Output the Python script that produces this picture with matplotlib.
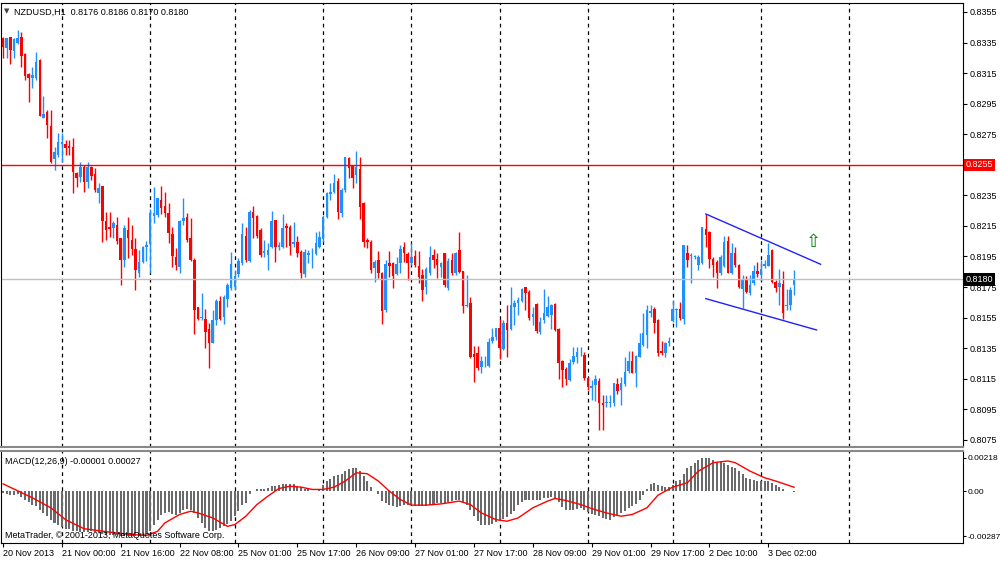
import matplotlib
matplotlib.use('Agg')
import matplotlib.pyplot as plt
import numpy as np

# NZDUSD H1, bars (bar index 0 = 20 Nov 2013 08:00)
opens = [0.83382, 0.83312, 0.83384, 0.83295, 0.83345, 0.83384, 0.83273, 0.83142, 0.83120, 0.83120,
         0.83236, 0.82858, 0.82893, 0.82806, 0.82588, 0.82614, 0.82686, 0.82684, 0.82675, 0.82669,
         0.82494, 0.82472, 0.82538, 0.82439, 0.82538, 0.82488, 0.82363, 0.82411, 0.82182, 0.82145,
         0.82134, 0.82156, 0.82069, 0.81927, 0.82123, 0.82058, 0.81997, 0.81844, 0.81916, 0.82010,
         0.82032, 0.82215, 0.82221, 0.82320, 0.82280, 0.82237, 0.82097, 0.81949, 0.81883, 0.82184,
         0.82211, 0.82069, 0.81927, 0.81617, 0.81545, 0.81539, 0.81473, 0.81386, 0.81534, 0.81661,
         0.81556, 0.81669, 0.81741, 0.81748, 0.81835, 0.81905, 0.82084, 0.81922, 0.82243, 0.82215,
         0.82123, 0.81970, 0.81960, 0.82014, 0.82189, 0.82014, 0.82014, 0.82150, 0.82145, 0.82034,
         0.82047, 0.81977, 0.81833, 0.81960, 0.81964, 0.81964, 0.82014, 0.82065, 0.82211, 0.82357,
         0.82375, 0.82444, 0.82233, 0.82385, 0.82593, 0.82545, 0.82484, 0.82523, 0.82298, 0.82058,
         0.82047, 0.81873, 0.81927, 0.81840, 0.81600, 0.81905, 0.81905, 0.81833, 0.81905, 0.82010,
         0.81966, 0.81905, 0.81953, 0.81887, 0.81828, 0.81748, 0.81840, 0.81959, 0.81931, 0.81883,
         0.81970, 0.81741, 0.81927, 0.81839, 0.81992, 0.81857, 0.81625, 0.81647, 0.81311, 0.81316,
         0.81224, 0.81250, 0.81233, 0.81399, 0.81420, 0.81479, 0.81342, 0.81516, 0.81473, 0.81621,
         0.81647, 0.81660, 0.81748, 0.81719, 0.81551, 0.81639, 0.81458, 0.81534, 0.81560, 0.81567,
         0.81637, 0.81473, 0.81268, 0.81211, 0.81141, 0.81261, 0.81290, 0.81310, 0.81305, 0.81152,
         0.81087, 0.81109, 0.81137, 0.80993, 0.80993, 0.80989, 0.80993, 0.81115, 0.81076, 0.81115,
         0.81202, 0.81268, 0.81189, 0.81294, 0.81371, 0.81436, 0.81582, 0.81604, 0.81534, 0.81333,
         0.81316, 0.81386, 0.81530, 0.81600, 0.81604, 0.81539, 0.81975, 0.81953, 0.81945, 0.81895,
         0.81910, 0.82128, 0.82113, 0.81932, 0.81916, 0.81844, 0.81888, 0.82054, 0.81844, 0.81975,
         0.81895, 0.81735, 0.81801, 0.81713, 0.81774, 0.81857, 0.81829, 0.81888, 0.81888, 0.81993,
         0.81785, 0.81748, 0.81770, 0.81626, 0.81633, 0.81760]
highs = [0.83389, 0.83382, 0.83384, 0.83378, 0.83434, 0.83421, 0.83280, 0.83149, 0.83192, 0.83286,
         0.83240, 0.83002, 0.82909, 0.82909, 0.82669, 0.82756, 0.82756, 0.82712, 0.82712, 0.82723,
         0.82505, 0.82570, 0.82549, 0.82570, 0.82544, 0.82531, 0.82429, 0.82411, 0.82243, 0.82239,
         0.82182, 0.82210, 0.82069, 0.82156, 0.82210, 0.82156, 0.82069, 0.81992, 0.82019, 0.82053,
         0.82259, 0.82407, 0.82331, 0.82411, 0.82374, 0.82298, 0.82145, 0.82003, 0.82189, 0.82331,
         0.82237, 0.82200, 0.81938, 0.81621, 0.81713, 0.81604, 0.81512, 0.81600, 0.81669, 0.81691,
         0.81698, 0.81774, 0.81981, 0.81861, 0.81938, 0.82167, 0.82141, 0.82254, 0.82280, 0.82221,
         0.82134, 0.82058, 0.82036, 0.82248, 0.82189, 0.82047, 0.82226, 0.82167, 0.82156, 0.82178,
         0.82086, 0.81993, 0.81999, 0.81993, 0.82004, 0.82108, 0.82117, 0.82222, 0.82375, 0.82429,
         0.82488, 0.82462, 0.82396, 0.82604, 0.82604, 0.82549, 0.82641, 0.82604, 0.82309, 0.82069,
         0.82058, 0.81927, 0.81986, 0.81851, 0.81927, 0.81986, 0.81916, 0.81949, 0.82025, 0.82047,
         0.81981, 0.82036, 0.81992, 0.81988, 0.81865, 0.81883, 0.82018, 0.81996, 0.81970, 0.81916,
         0.81975, 0.81938, 0.81975, 0.81981, 0.82112, 0.81857, 0.81828, 0.81687, 0.81364, 0.81364,
         0.81298, 0.81298, 0.81414, 0.81479, 0.81479, 0.81538, 0.81534, 0.81632, 0.81748, 0.81665,
         0.81687, 0.81741, 0.81752, 0.81730, 0.81617, 0.81643, 0.81556, 0.81735, 0.81691, 0.81639,
         0.81643, 0.81480, 0.81272, 0.81229, 0.81277, 0.81360, 0.81360, 0.81360, 0.81327, 0.81163,
         0.81141, 0.81174, 0.81152, 0.81043, 0.81043, 0.81043, 0.81124, 0.81152, 0.81159, 0.81294,
         0.81333, 0.81333, 0.81305, 0.81447, 0.81578, 0.81632, 0.81632, 0.81617, 0.81539, 0.81399,
         0.81392, 0.81420, 0.81665, 0.81611, 0.81655, 0.82025, 0.82025, 0.81971, 0.81960, 0.81960,
         0.82145, 0.82228, 0.82119, 0.81949, 0.81927, 0.81960, 0.82084, 0.82084, 0.82036, 0.82015,
         0.81901, 0.81829, 0.81823, 0.81829, 0.81895, 0.81916, 0.81927, 0.81927, 0.82036, 0.81997,
         0.81796, 0.81866, 0.81857, 0.81735, 0.81753, 0.81860]
lows = [0.83251, 0.83251, 0.83208, 0.83251, 0.83338, 0.83192, 0.83105, 0.82963, 0.83050, 0.83105,
        0.82872, 0.82854, 0.82727, 0.82559, 0.82516, 0.82603, 0.82570, 0.82614, 0.82614, 0.82363,
        0.82407, 0.82439, 0.82374, 0.82396, 0.82450, 0.82374, 0.82298, 0.82047, 0.82058, 0.82080,
        0.82069, 0.82029, 0.81763, 0.81883, 0.81938, 0.81960, 0.81730, 0.81818, 0.81905, 0.81922,
        0.81840, 0.82167, 0.82210, 0.82228, 0.82210, 0.82036, 0.81883, 0.81861, 0.81840, 0.82156,
        0.82047, 0.81922, 0.81442, 0.81534, 0.81534, 0.81349, 0.81218, 0.81382, 0.81501, 0.81534,
        0.81508, 0.81621, 0.81730, 0.81730, 0.81813, 0.81894, 0.81916, 0.81916, 0.82069, 0.82069,
        0.81949, 0.81944, 0.81862, 0.82004, 0.81912, 0.81993, 0.82008, 0.82014, 0.81960, 0.82014,
        0.81949, 0.81812, 0.81818, 0.81905, 0.81877, 0.81960, 0.82004, 0.82047, 0.82200, 0.82320,
        0.82364, 0.82196, 0.82211, 0.82375, 0.82462, 0.82401, 0.82429, 0.82196, 0.82014, 0.82004,
        0.81840, 0.81781, 0.81807, 0.81506, 0.81589, 0.81818, 0.81746, 0.81829, 0.81839, 0.81916,
        0.81796, 0.81894, 0.81883, 0.81774, 0.81660, 0.81704, 0.81828, 0.81872, 0.81807, 0.81818,
        0.81748, 0.81730, 0.81828, 0.81828, 0.81839, 0.81582, 0.81621, 0.81283, 0.81130, 0.81207,
        0.81189, 0.81224, 0.81228, 0.81381, 0.81403, 0.81276, 0.81337, 0.81289, 0.81468, 0.81501,
        0.81567, 0.81654, 0.81599, 0.81534, 0.81501, 0.81447, 0.81443, 0.81517, 0.81552, 0.81473,
        0.81464, 0.81146, 0.81098, 0.81109, 0.81137, 0.81246, 0.81250, 0.81299, 0.81141, 0.81076,
        0.81011, 0.81006, 0.80814, 0.80814, 0.80962, 0.80967, 0.80971, 0.81050, 0.80978, 0.81102,
        0.81185, 0.81185, 0.81098, 0.81290, 0.81364, 0.81349, 0.81556, 0.81447, 0.81299, 0.81305,
        0.81294, 0.81365, 0.81524, 0.81491, 0.81534, 0.81508, 0.81884, 0.81774, 0.81932, 0.81862,
        0.81901, 0.82015, 0.81873, 0.81818, 0.81742, 0.81829, 0.81884, 0.81840, 0.81836, 0.81884,
        0.81742, 0.81611, 0.81709, 0.81698, 0.81764, 0.81814, 0.81796, 0.81873, 0.81888, 0.81774,
        0.81720, 0.81633, 0.81539, 0.81600, 0.81600, 0.81700]
closes = [0.83323, 0.83378, 0.83299, 0.83373, 0.83378, 0.83264, 0.83131, 0.83116, 0.83138, 0.83225,
          0.82872, 0.82885, 0.82810, 0.82570, 0.82632, 0.82697, 0.82697, 0.82662, 0.82662, 0.82501,
          0.82466, 0.82538, 0.82439, 0.82538, 0.82479, 0.82385, 0.82400, 0.82182, 0.82123, 0.82130,
          0.82167, 0.82051, 0.81927, 0.82138, 0.82069, 0.81999, 0.81861, 0.81916, 0.82010, 0.82025,
          0.82232, 0.82232, 0.82331, 0.82265, 0.82232, 0.82106, 0.81953, 0.81894, 0.82184, 0.82200,
          0.82058, 0.81927, 0.81600, 0.81539, 0.81556, 0.81458, 0.81382, 0.81534, 0.81661, 0.81539,
          0.81687, 0.81763, 0.81899, 0.81822, 0.81922, 0.82097, 0.81927, 0.82243, 0.82200, 0.82084,
          0.81960, 0.81988, 0.81993, 0.82183, 0.82014, 0.82025, 0.82139, 0.82135, 0.82021, 0.82043,
          0.81971, 0.81840, 0.81977, 0.81971, 0.81966, 0.82036, 0.82080, 0.82211, 0.82364, 0.82375,
          0.82429, 0.82244, 0.82385, 0.82604, 0.82532, 0.82466, 0.82538, 0.82276, 0.82043, 0.82043,
          0.81862, 0.81912, 0.81840, 0.81593, 0.81899, 0.81890, 0.81825, 0.81899, 0.81996, 0.81975,
          0.81905, 0.81948, 0.81894, 0.81813, 0.81730, 0.81865, 0.81948, 0.81927, 0.81894, 0.81905,
          0.81763, 0.81922, 0.81839, 0.81975, 0.81850, 0.81625, 0.81632, 0.81294, 0.81294, 0.81217,
          0.81268, 0.81255, 0.81392, 0.81425, 0.81479, 0.81348, 0.81516, 0.81468, 0.81632, 0.81643,
          0.81665, 0.81735, 0.81713, 0.81545, 0.81571, 0.81464, 0.81523, 0.81578, 0.81617, 0.81632,
          0.81469, 0.81250, 0.81207, 0.81146, 0.81250, 0.81299, 0.81327, 0.81312, 0.81152, 0.81093,
          0.81102, 0.81146, 0.80993, 0.80978, 0.81000, 0.81000, 0.81119, 0.81072, 0.81119, 0.81196,
          0.81268, 0.81189, 0.81299, 0.81386, 0.81447, 0.81600, 0.81595, 0.81512, 0.81320, 0.81320,
          0.81386, 0.81400, 0.81604, 0.81604, 0.81545, 0.82025, 0.81927, 0.81960, 0.81953, 0.81949,
          0.82141, 0.82091, 0.81932, 0.81895, 0.81844, 0.81945, 0.82047, 0.81844, 0.81975, 0.81895,
          0.81748, 0.81796, 0.81720, 0.81764, 0.81857, 0.81836, 0.81866, 0.81901, 0.81960, 0.81785,
          0.81742, 0.81779, 0.81578, 0.81633, 0.81731, 0.81800]

# MACD(12,26,9) main histogram, one value per bar
macd_main = [-0.00009, -0.00019, -0.00024, -0.00024, -0.00019, -0.00037, -0.00052, -0.00067, -0.00088, -0.00095,
             -0.00116, -0.00138, -0.00159, -0.00181, -0.00202, -0.00217, -0.00230, -0.00239, -0.00241, -0.00252,
             -0.00256, -0.00260, -0.00260, -0.00260, -0.00256, -0.00260, -0.00267, -0.00273, -0.00278, -0.00278,
             -0.00280, -0.00281, -0.00284, -0.00284, -0.00285, -0.00285, -0.00287, -0.00284, -0.00283, -0.00275,
             -0.00256, -0.00217, -0.00181, -0.00148, -0.00138, -0.00131, -0.00144, -0.00148, -0.00138, -0.00116,
             -0.00110, -0.00116, -0.00138, -0.00170, -0.00202, -0.00234, -0.00256, -0.00256, -0.00245, -0.00234,
             -0.00224, -0.00209, -0.00187, -0.00159, -0.00127, -0.00088, -0.00073, -0.00019, 0.00006, 0.00019,
             0.00019, 0.00019, 0.00024, 0.00034, 0.00034, 0.00041, 0.00045, 0.00049, 0.00045, 0.00045,
             0.00034, 0.00028, 0.00019, 0.00013, 0.00002, 0.00006, 0.00019, 0.00041, 0.00067, 0.00077,
             0.00099, 0.00105, 0.00110, 0.00131, 0.00142, 0.00148, 0.00148, 0.00131, 0.00099, 0.00067,
             0.00028, 0.00002, -0.00019, -0.00062, -0.00073, -0.00088, -0.00095, -0.00101, -0.00095, -0.00088,
             -0.00088, -0.00088, -0.00095, -0.00095, -0.00095, -0.00095, -0.00088, -0.00080, -0.00073, -0.00073,
             -0.00073, -0.00067, -0.00062, -0.00058, -0.00058, -0.00067, -0.00084, -0.00116, -0.00159, -0.00191,
             -0.00213, -0.00217, -0.00213, -0.00209, -0.00196, -0.00187, -0.00174, -0.00166, -0.00144, -0.00123,
             -0.00088, -0.00067, -0.00052, -0.00052, -0.00052, -0.00052, -0.00052, -0.00041, -0.00041, -0.00037,
             -0.00041, -0.00067, -0.00101, -0.00116, -0.00116, -0.00116, -0.00110, -0.00105, -0.00116, -0.00131,
             -0.00144, -0.00148, -0.00159, -0.00170, -0.00174, -0.00181, -0.00166, -0.00148, -0.00138, -0.00123,
             -0.00105, -0.00095, -0.00080, -0.00052, -0.00024, 0.00013, 0.00045, 0.00056, 0.00041, 0.00034,
             0.00028, 0.00028, 0.00041, 0.00067, 0.00071, 0.00110, 0.00148, 0.00163, 0.00185, 0.00200,
             0.00213, 0.00218, 0.00217, 0.00200, 0.00191, 0.00191, 0.00185, 0.00170, 0.00157, 0.00148,
             0.00131, 0.00114, 0.00088, 0.00077, 0.00071, 0.00067, 0.00067, 0.00067, 0.00067, 0.00056,
             0.00041, 0.00028, 0.00013, 0.00002, 0.00000, -0.00001]

# signal line, read at sampled bars
sig_bars = [0, 8, 13, 17, 22, 26, 31, 35, 39, 42, 44, 48, 51, 53, 57, 61, 63, 66, 69, 72,
            75, 78, 81, 84, 87, 90, 93, 96, 99, 102, 105, 108, 111, 115, 119, 124, 127, 130, 134, 137,
            140, 144, 148, 150, 153, 157, 160, 164, 168, 171, 175, 178, 182, 186, 189, 193, 197, 199, 203, 207,
            210, 215]
sig_vals = [0.00049, -0.00041, -0.00105, -0.00181, -0.00239, -0.00252, -0.00267, -0.00277, -0.00282, -0.00256,
            -0.00202, -0.00148, -0.00127, -0.00138, -0.00170, -0.00224, -0.00213, -0.00159, -0.00084, -0.00030,
            0.00019, 0.00034, 0.00028, 0.00013, 0.00013, 0.00028, 0.00067, 0.00120, 0.00114, 0.00067,
            0.00002, -0.00052, -0.00088, -0.00088, -0.00080, -0.00062, -0.00084, -0.00138, -0.00181, -0.00191,
            -0.00170, -0.00105, -0.00062, -0.00045, -0.00058, -0.00084, -0.00110, -0.00138, -0.00159, -0.00148,
            -0.00105, -0.00024, 0.00028, 0.00056, 0.00131, 0.00185, 0.00196, 0.00185, 0.00131, 0.00088,
            0.00067, 0.00027]

day_bars = [16, 40, 63, 87, 111, 135, 159, 182, 206, 230]
time_bars = [0, 16, 32, 48, 64, 80, 96, 112, 128, 144, 160, 176, 192, 208]
time_labels = ['20 Nov 2013', '21 Nov 00:00', '21 Nov 16:00', '22 Nov 08:00', '25 Nov 01:00',
               '25 Nov 17:00', '26 Nov 09:00', '27 Nov 01:00', '27 Nov 17:00', '28 Nov 09:00',
               '29 Nov 01:00', '29 Nov 17:00', '2 Dec 10:00', '3 Dec 02:00']
price_ticks = [0.8355, 0.8335, 0.8315, 0.8295, 0.8275, 0.8255, 0.8235, 0.8215, 0.8195,
               0.8175, 0.8155, 0.8135, 0.8115, 0.8095, 0.8075]
level_price = 0.8255
bid_price = 0.8180
chan_top_x = [191, 222.2]
chan_top_y = [0.82228, 0.81899]
chan_bot_x = [191, 221.1]
chan_bot_y = [0.81674, 0.81469]
arrow_pos = (220.2, 0.82045)
macd_ticks = [0.00218, 0.0, -0.00287]
macd_tick_labels = ['0.00218', '0.00', '-0.00287']

plt.rcParams['font.family'] = ['Liberation Sans', 'DejaVu Sans']
fs = 6.5
o = np.array(opens); h = np.array(highs); l = np.array(lows); c = np.array(closes)
idx = np.arange(len(o))
cols = np.where(c >= o, '#1E90FF', '#FF0000')

fig = plt.figure(figsize=(10, 5.61), dpi=100)
ax = fig.add_axes([0.001, 0.2032, 0.962, 0.7915])
am = fig.add_axes([0.001, 0.0321, 0.962, 0.164], sharex=ax)

# candles
ax.vlines(idx, l, h, colors=cols, lw=1)
ax.bar(idx, np.maximum(np.abs(c - o), 0.00004), bottom=np.minimum(o, c), width=0.68,
       color=cols, linewidth=0)

ax.axhline(level_price, color='red', lw=1)
ax.axhline(bid_price, color='#C0C0C0', lw=1)
ax.plot(chan_top_x, chan_top_y, color='#2020FF', lw=1)
ax.plot(chan_bot_x, chan_bot_y, color='#2020FF', lw=1)
ax.text(arrow_pos[0], arrow_pos[1], '\u21e7', color='green', fontsize=13,
        ha='center', va='center', family='DejaVu Sans')

for a in (ax, am):
    for b in day_bars:
        a.axvline(b, color='black', lw=0.9, ls=(0, (3, 3)), zorder=0)

ax.set_xlim(-0.54, 260.9)
ax.set_ylim(0.80703, 0.83609)
ax.yaxis.tick_right()
ax.set_yticks(price_ticks)
ax.set_yticklabels(['' if p == level_price else '%.4f' % p for p in price_ticks], fontsize=fs)
ax.tick_params(axis='y', length=3, pad=2)
ax.tick_params(axis='x', bottom=False, labelbottom=False)

ytr = ax.get_yaxis_transform()
ax.text(1.003, level_price, '%.4f' % level_price, transform=ytr, color='white', fontsize=fs,
        va='center', ha='left', bbox=dict(fc='red', ec='none', pad=1.2))
ax.text(1.003, bid_price, '%.4f' % bid_price, transform=ytr, color='white', fontsize=fs,
        va='center', ha='left', bbox=dict(fc='black', ec='none', pad=1.2))

ax.text(0.003, 0.988, '\u25bc', transform=ax.transAxes, fontsize=5, va='top', ha='left',
        color='#404040', family='DejaVu Sans')
ax.text(0.014, 0.988, 'NZDUSD,H1  0.8176 0.8186 0.8170 0.8180', transform=ax.transAxes,
        fontsize=fs, va='top', ha='left')

# MACD panel
am.bar(idx, macd_main, width=0.55, color='#6A6A6A', linewidth=0)
am.plot(sig_bars, sig_vals, color='red', lw=1)
am.set_ylim(-0.00331, 0.0026)
am.yaxis.tick_right()
am.set_yticks(macd_ticks)
am.set_yticklabels(macd_tick_labels, fontsize=6.0)
am.tick_params(axis='y', length=2, pad=1)
am.set_xticks(time_bars)
am.set_xticklabels(time_labels, fontsize=fs, ha='left')
am.tick_params(axis='x', length=3, pad=1.5)
am.text(0.004, 0.93, 'MACD(12,26,9) -0.00001 0.00027', transform=am.transAxes,
        fontsize=fs, va='top', ha='left')
am.text(0.004, 0.03, 'MetaTrader, \u00a9 2001-2013, MetaQuotes Software Corp.',
        transform=am.transAxes, fontsize=fs, va='bottom', ha='left')

for a in (ax, am):
    for s in a.spines.values():
        s.set_linewidth(0.8)
ax.spines['bottom'].set_color('#888888')
ax.spines['bottom'].set_linewidth(1.5)
am.spines['top'].set_color('#888888')
am.spines['top'].set_linewidth(1.5)

fig.savefig('out.png', dpi=100)
